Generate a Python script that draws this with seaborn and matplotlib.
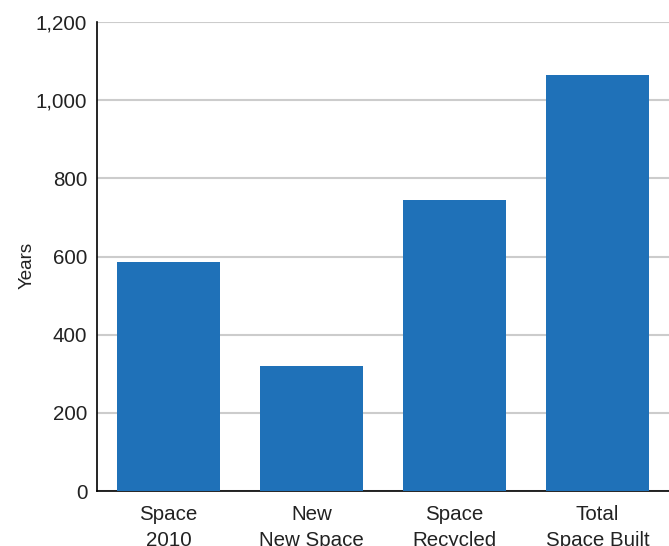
import pandas as pd
import seaborn as sns
import matplotlib.pyplot as plt
from matplotlib.ticker import FuncFormatter

# Chart values
categories = ["Space\n2010", "New\nNew Space", "Space\nRecycled", "Total\nSpace Built"]
years = [586, 320, 745, 1064]
y_ticks = [0, 200, 400, 600, 800, 1000, 1200]

df = pd.DataFrame({"Category": categories, "Years": years})

sns.set_theme(style="white")
plt.rcParams["font.family"] = ["Liberation Sans", "DejaVu Sans"]

fig = plt.figure(figsize=(6.69, 5.46), dpi=100)
ax = fig.add_axes([0.145, 0.1007, 0.855, 0.859])

sns.barplot(data=df, x="Category", y="Years", color="#1f71b8", saturation=1,
            width=0.727, linewidth=0, ax=ax, zorder=3)

# Light horizontal grid behind the bars
ax.set_yticks(y_ticks)
ax.set_ylim(0, 1200)
ax.set_xlim(-0.5, 3.5)
ax.yaxis.grid(True, color="#cccccc", linewidth=1.5, zorder=0)
ax.set_axisbelow(True)
ax.yaxis.set_major_formatter(FuncFormatter(lambda v, p: f"{int(v):,}"))

ax.tick_params(axis="y", length=0, pad=7, labelsize=14.8, colors="#222222")
ax.tick_params(axis="x", length=0, pad=10, labelsize=14.8, colors="#222222")
for lbl in ax.get_xticklabels():
    lbl.set_linespacing(1.5)

ax.set_xlabel("")
ax.set_ylabel("Years", fontsize=13.5, color="#222222")
ax.yaxis.set_label_coords(-0.107, 0.482)

# Only the left and bottom spines, in black
for side in ["top", "right"]:
    ax.spines[side].set_visible(False)
ax.spines["left"].set_color("black")
ax.spines["bottom"].set_color("black")
ax.spines["left"].set_linewidth(1.2)
ax.spines["bottom"].set_linewidth(1.2)

fig.savefig("out.png", dpi=100)
